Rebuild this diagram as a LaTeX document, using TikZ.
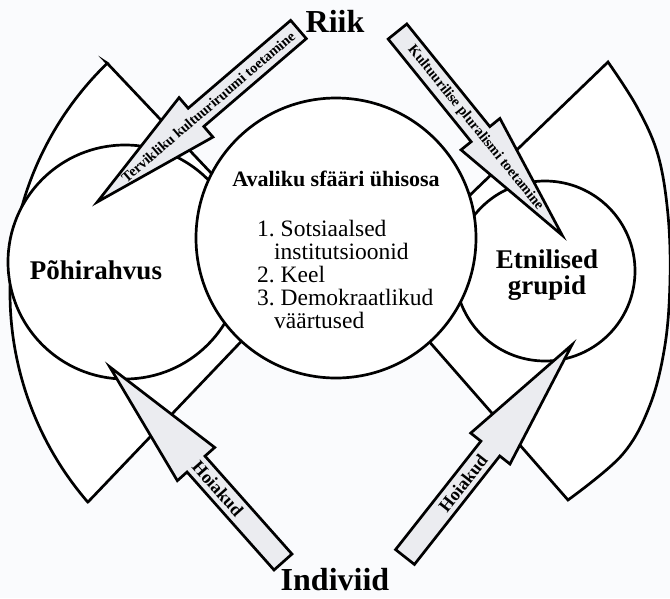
\documentclass[tikz,border=0pt]{standalone}
\usepackage{fontspec}
\setmainfont{Liberation Serif}
\definecolor{paper}{RGB}{250,251,253}
\definecolor{arrowfill}{RGB}{235,236,240}
\begin{document}
\begin{tikzpicture}[x=1pt,y=-1pt,
  outline/.style={draw=black, line width=2.7pt, line join=miter},
  blob/.style={outline, fill=white},
  disc/.style={blob, circle, inner sep=0pt},
  arrowbody/.style={outline, fill=arrowfill},
  arrowtext/.style={font=\bfseries\fontsize{14.5}{14.5}\selectfont, inner sep=0pt, transform shape},
  hoiak/.style={font=\bfseries\fontsize{18}{18}\selectfont, inner sep=0pt, transform shape},
  biglabel/.style={font=\bfseries\fontsize{32}{32}\selectfont, inner sep=0pt},
  grouplabel/.style={font=\bfseries\fontsize{27}{27}\selectfont, inner sep=0pt},
  listline/.style={font=\fontsize{23.5}{23.5}\selectfont, inner sep=0pt, anchor=base west},
]
% page
\fill[paper] (0,0) rectangle (670,598);
\useasboundingbox (0,0) rectangle (670,598);

% outer fan shapes behind the circles
\draw[blob] (230,193) -- (107,63)
  -- plot[domain=225.9:139.2, samples=90] ({330+320*cos(\x)},{293+320*sin(\x)})
  -- (88,502) -- (255,327) -- cycle;
\draw[blob] (440,224) -- (608,62)
  -- plot[smooth, tension=0.6] coordinates {(608,62) (637,107) (658,155) (668,215) (670,280) (665,345) (650,405) (622,455) (568,500)}
  -- (568,500) -- (420,331) -- cycle;

% circles
\node[disc, minimum size=234pt] (pohi) at (125,262) {};
\node[disc, minimum size=180pt] (etn) at (545,271) {};
\node[disc, minimum size=280pt] (avalik) at (336,238) {};

% labels of the circles
\node[grouplabel, anchor=base] (pohilbl) at (96,279) {Põhirahvus};
\node[grouplabel, anchor=base] (etnlbl1) at (547,268) {Etnilised};
\node[grouplabel, anchor=base] (etnlbl2) at (547,294) {grupid};
\node[font=\bfseries\fontsize{22}{22}\selectfont, inner sep=0pt, anchor=base] (avaliklbl) at (336,186) {Avaliku sfääri ühisosa};
\node[listline] (l1) at (257,236) {1.~Sotsiaalsed};
\node[listline] (l2) at (274,259) {institutsioonid};
\node[listline] (l3) at (257,282) {2.~Keel};
\node[listline] (l4) at (257,305) {3.~Demokraatlikud};
\node[listline] (l5) at (274,328) {väärtused};

% Riik and Indiviid
\node[biglabel, anchor=base] (riik) at (335,32) {Riik};
\node[biglabel, anchor=base] (indiviid) at (335,590) {Indiviid};

% arrow from Riik to Põhirahvus
\begin{scope}[shift={(298.5,29.5)}, rotate=220.6]
  \draw[arrowbody] (0,-12) -- (135,-12) -- (135,-26) -- (265,0) -- (135,26) -- (135,12) -- (0,12) -- cycle;
  \node[arrowtext, rotate=180] (a1) at (119,0) {Tervikliku kultuuriruumi toetamine};
\end{scope}
% arrow from Riik to Etnilised grupid
\begin{scope}[shift={(397.5,31.5)}, rotate=-51.05]
  \draw[arrowbody] (0,-12) -- (132,-12) -- (132,-25) -- (262,0) -- (132,25) -- (132,12) -- (0,12) -- cycle;
  \node[arrowtext] (a2) at (124,0) {Kultuurilise pluralismi toetamine};
\end{scope}
% arrow from Indiviid to Põhirahvus
\begin{scope}[shift={(283,562)}, rotate=131.6]
  \draw[arrowbody] (0,-12) -- (131,-12) -- (131,-25) -- (261,0) -- (131,25) -- (131,12) -- (0,12) -- cycle;
  \node[hoiak, rotate=180] (a3) at (98,0) {Hoiakud};
\end{scope}
% arrow from Indiviid to Etnilised grupid
\begin{scope}[shift={(405,557)}, rotate=51.8]
  \draw[arrowbody] (0,-12) -- (138,-12) -- (138,-25) -- (270,0) -- (138,25) -- (138,12) -- (0,12) -- cycle;
  \node[hoiak] (a4) at (94,0) {Hoiakud};
\end{scope}
\end{tikzpicture}
\end{document}
